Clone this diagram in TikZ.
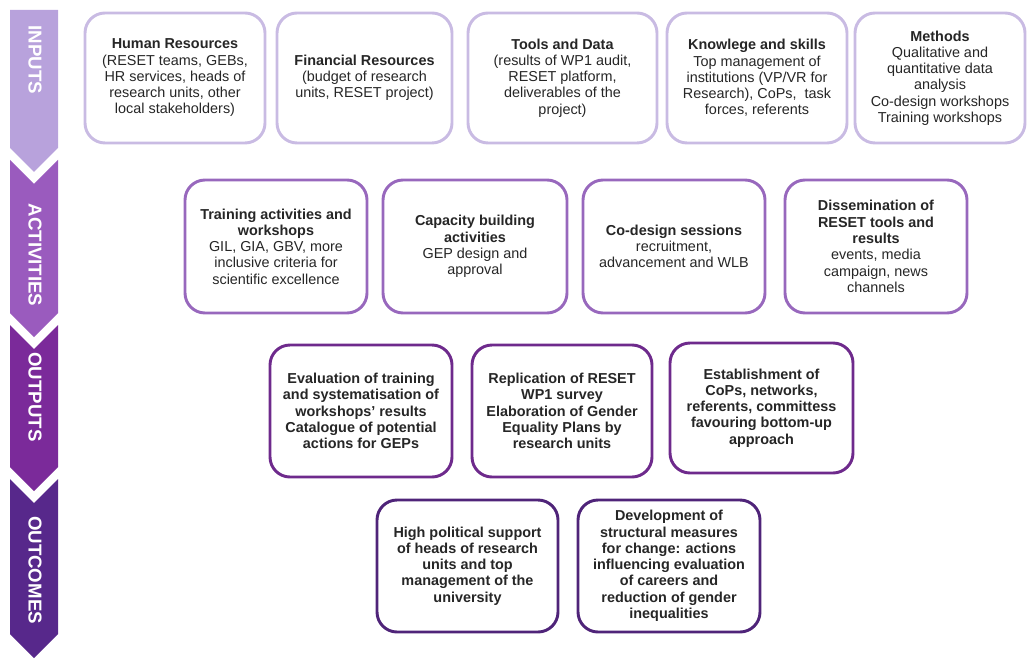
\documentclass[tikz,border=0pt]{standalone}
\usepackage{fontspec}
\setmainfont{Liberation Sans}
\definecolor{inputcolor}{RGB}{184,162,220}
\definecolor{activitycolor}{RGB}{154,91,190}
\definecolor{outputcolor}{RGB}{123,42,154}
\definecolor{outcomecolor}{RGB}{87,40,139}
\definecolor{inputline}{RGB}{201,187,227}
\definecolor{activityline}{RGB}{152,104,189}
\definecolor{outputline}{RGB}{110,42,140}
\definecolor{outcomeline}{RGB}{79,36,121}
\definecolor{boxtext}{RGB}{38,38,38}
\tikzset{
  stage label/.style={rotate=-90,text=white,font=\fontsize{14}{14}\selectfont\bfseries},
  stage box/.style={rectangle,rounded corners=15pt,line width=2.2pt,fill=white,align=center,
    inner sep=0pt,text=boxtext,font=\fontsize{10.8}{12.2}\selectfont},
  input box/.style={stage box,draw=inputline,minimum height=97.5pt},
  activity box/.style={stage box,draw=activityline,minimum height=99.75pt},
  output box/.style={stage box,draw=outputline,minimum height=99pt,
    font=\fontsize{10.8}{12.2}\selectfont\bfseries},
  outcome box/.style={stage box,draw=outcomeline,minimum height=99pt,
    font=\fontsize{10.8}{12.2}\selectfont\bfseries}
}

\begin{document}
\begin{tikzpicture}[x=0.75pt,y=-0.75pt]
  \useasboundingbox (0,0) rectangle (1027,659);
  \fill[inputcolor] (10,10)--(58,10)--(58,148)--(34,172)--(10,148)--cycle;
  \foreach \ya/\yb/\col in {160/313/activitycolor,325/467/outputcolor,479/634/outcomecolor}{
    \fill[\col] (10,\ya)--(34,\ya+24)--(58,\ya)--(58,\yb)--(34,\yb+24)--(10,\yb)--cycle;
  }
  \node[stage label] (inputs) at (35,60) {INPUTS};
  \node[stage label] (activities) at (35,255) {ACTIVITIES};
  \node[stage label] (outputs) at (35,397) {OUTPUTS};
  \node[stage label] (outcomes) at (35,570) {OUTCOMES};

  \node[input box,minimum width=135pt] (human) at (175,78)
    {\textbf{Human Resources}\\(RESET teams, GEBs,\\HR services, heads of\\research units, other\\local stakeholders)};
  \node[input box,minimum width=131.25pt] (financial) at (364.5,78)
    {\textbf{Financial Resources}\\(budget of research\\units, RESET project)};
  \node[input box,minimum width=141.75pt] (tools) at (562.5,78)
    {\textbf{Tools and Data}\\(results of WP1 audit,\\RESET platform,\\deliverables of the\\project)};
  \node[input box,minimum width=135pt] (knowledge) at (757,78)
    {\textbf{Knowlege and skills}\\Top management of\\institutions (VP/VR for\\Research), CoPs,\ \ task\\forces, referents};
  \node[input box,minimum width=127.5pt] (methods) at (940,78)
    {\textbf{Methods}\\Qualitative and\\quantitative data\\analysis\\Co-design workshops\\Training workshops};

  \node[activity box,minimum width=136.5pt] (training) at (276,246.5)
    {\textbf{Training activities and}\\\textbf{workshops}\\GIL, GIA, GBV, more\\inclusive criteria for\\scientific excellence};
  \node[activity box,minimum width=138pt] (capacity) at (475,246.5)
    {\textbf{Capacity building}\\\textbf{activities}\\GEP design and\\approval};
  \node[activity box,minimum width=136.5pt] (codesign) at (674,246.5)
    {\textbf{Co-design sessions}\\recruitment,\\advancement and WLB};
  \node[activity box,minimum width=136.5pt] (dissemination) at (876,246.5)
    {\textbf{Dissemination of}\\\textbf{RESET tools and}\\\textbf{results}\\events, media\\campaign, news\\channels};

  \node[output box,minimum width=136.5pt] (evaluation) at (361,411)
    {Evaluation of training\\and systematisation of\\workshops' results\\Catalogue of potential\\actions for GEPs};
  \node[output box,minimum width=135pt] (replication) at (562,411)
    {Replication of RESET\\WP1 survey\\Elaboration of Gender\\Equality Plans by\\research units};
  \node[output box,minimum width=137.25pt,minimum height=97.5pt] (establishment) at (761.5,408)
    {Establishment of\\CoPs, networks,\\referents, committess\\favouring bottom-up\\approach};

  \node[outcome box,minimum width=135.75pt] (political) at (467.5,566)
    {High political support\\of heads of research\\units and top\\management of the\\university};
  \node[outcome box,minimum width=136.5pt] (development) at (669,566)
    {Development of\\structural measures\\for change: actions\\influencing evaluation\\of careers and\\reduction of gender\\inequalities};
\end{tikzpicture}
\end{document}
